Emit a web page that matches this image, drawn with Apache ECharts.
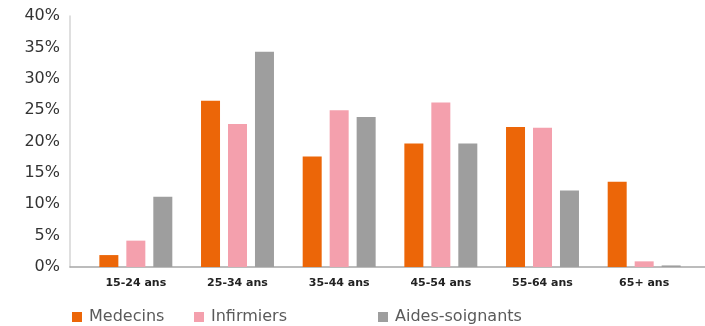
<!DOCTYPE html>
<html>
<head>
<meta charset="utf-8">
<script src="https://cdn.jsdelivr.net/npm/echarts@6/dist/echarts.min.js"></script>
<style>
  html, body { margin: 0; padding: 0; background: #fff; }
  #main { width: 705px; height: 326px; }
</style>
</head>
<body>
<div id="main"></div>
<script>
var categories = ['15-24 ans', '25-34 ans', '35-44 ans', '45-54 ans', '55-64 ans', '65+ ans'];
var medecins = [1.9, 26.5, 17.6, 19.7, 22.3, 13.6];
var infirmiers = [4.2, 22.8, 25.0, 26.2, 22.2, 0.9];
var aides = [11.2, 34.3, 23.9, 19.7, 12.2, 0.25];
var seriesNames = ['Medecins', 'Infirmiers', 'Aides-soignants'];
var colors = ['#EC6608', '#F4A0AD', '#9E9E9E'];

var myChart = echarts.init(document.getElementById('main'));

// valeurs en % -> fraction
function toFrac (arr) {
  return arr.map(function (v) { return v / 100; });
}

function legendFor (name, left) {
  return {
    data: [name],
    left: left,
    top: 304,
    icon: 'rect',
    itemWidth: 10,
    itemHeight: 10,
    textStyle: {
      fontFamily: 'DejaVu Sans',
      fontSize: 16,
      color: '#5a5a5a',
      padding: [0, 0, 0, 2]
    }
  };
}

function barSeries (i, values) {
  return {
    name: seriesNames[i],
    type: 'bar',
    xAxisIndex: 1,
    yAxisIndex: 1,
    data: toFrac(values),
    barWidth: 19,
    barGap: '42%',
    itemStyle: { borderRadius: 0 }
  };
}

var option = {
  animation: false,
  color: colors,
  // grid 0 : lignes d'axes, grid 1 : barres
  grid: [
    { left: 70, right: 0, top: 16, bottom: 59 },
    { left: 85, right: 10, top: 16, bottom: 59 }
  ],
  legend: [
    legendFor('Medecins', 67),
    legendFor('Infirmiers', 189),
    legendFor('Aides-soignants', 373)
  ],
  xAxis: [
    {
      gridIndex: 0,
      type: 'value',
      min: 0,
      max: 1,
      axisLine: { show: true, lineStyle: { color: '#a6a6a6', width: 1.5 } },
      axisTick: { show: false },
      axisLabel: { show: false },
      splitLine: { show: false }
    },
    {
      gridIndex: 1,
      type: 'category',
      data: categories,
      axisLine: { show: false },
      axisTick: { show: false },
      axisLabel: {
        margin: 11,
        fontFamily: 'DejaVu Sans',
        fontWeight: 'bold',
        fontSize: 11,
        color: '#222'
      }
    }
  ],
  yAxis: [
    {
      gridIndex: 0,
      type: 'value',
      min: 0,
      max: 0.4,
      interval: 0.05,
      axisLine: { show: true, lineStyle: { color: '#d4d4d4', width: 1.5 } },
      axisTick: { show: false },
      splitLine: { show: false },
      axisLabel: {
        margin: 10,
        fontFamily: 'DejaVu Sans',
        fontSize: 16,
        color: '#333',
        formatter: function (v) { return Math.round(v * 100) + '%'; }
      }
    },
    {
      gridIndex: 1,
      type: 'value',
      min: 0,
      max: 0.4,
      interval: 0.05,
      show: false
    }
  ],
  series: [
    barSeries(0, medecins),
    barSeries(1, infirmiers),
    barSeries(2, aides)
  ]
};

myChart.setOption(option);
</script>
</body>
</html>
